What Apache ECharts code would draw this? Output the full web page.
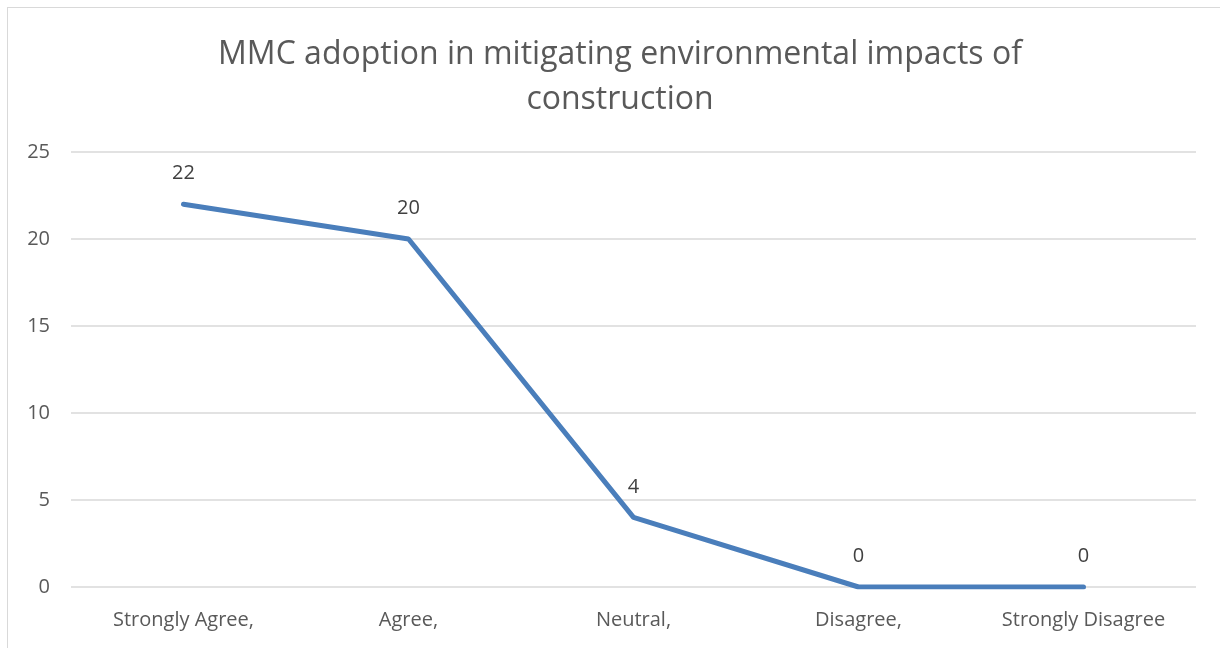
<!DOCTYPE html>
<html>
<head>
<meta charset="utf-8">
<script src="https://cdn.jsdelivr.net/npm/echarts@6/dist/echarts.min.js"></script>
<style>
    html, body { margin: 0; padding: 0; background: #fff; }
    #frame {
        position: absolute; left: 7px; top: 7px; width: 1240px; height: 680px;
        border: 1px solid #d9d9d9; box-sizing: border-box;
    }
    #chart { position: absolute; left: 0; top: 0; width: 1220px; height: 648px; }
</style>
</head>
<body>
<div id="frame"></div>
<div id="chart"></div>
<script>
    var categories = ['Strongly Agree,', 'Agree,', 'Neutral,', 'Disagree,', 'Strongly Disagree'];
    var responses = [22, 20, 4, 0, 0];
    var yTicks = [0, 5, 10, 15, 20, 25];

    var myChart = echarts.init(document.getElementById('chart'));
    var font = '"Open Sans", "Noto Sans", sans-serif';
    var option = {
        animation: false,
        title: {
            text: 'MMC adoption in mitigating environmental impacts of\nconstruction',
            left: 615,
            textAlign: 'center',
            top: 27,
            textStyle: {
                fontFamily: font,
                fontSize: 32,
                fontWeight: 'normal',
                color: '#595959',
                lineHeight: 45
            }
        },
        grid: { left: 71, right: 24, top: 152, bottom: 61 },
        xAxis: {
            type: 'category',
            data: categories,
            boundaryGap: true,
            axisLine: { show: false },
            axisTick: { show: false },
            axisLabel: {
                fontFamily: font,
                fontSize: 20,
                color: '#595959',
                margin: 23
            }
        },
        yAxis: {
            type: 'value',
            min: yTicks[0],
            max: yTicks[yTicks.length - 1],
            interval: 5,
            axisLine: { show: false },
            axisTick: { show: false },
            axisLabel: {
                fontFamily: font,
                fontSize: 20,
                color: '#595959',
                margin: 21,
                align: 'right'
            },
            splitLine: { lineStyle: { color: '#d9d9d9', width: 1.5 } }
        },
        series: [{
            type: 'line',
            data: responses,
            symbol: 'circle',
            symbolSize: 1,
            showSymbol: true,
            itemStyle: { color: '#4a7ebb', opacity: 0 },
            lineStyle: { color: '#4a7ebb', width: 5, cap: 'round' },
            label: {
                show: true,
                position: 'top',
                distance: 20,
                fontFamily: font,
                fontSize: 20,
                color: '#404040',
                opacity: 1
            }
        }]
    };
    myChart.setOption(option);
</script>
</body>
</html>
